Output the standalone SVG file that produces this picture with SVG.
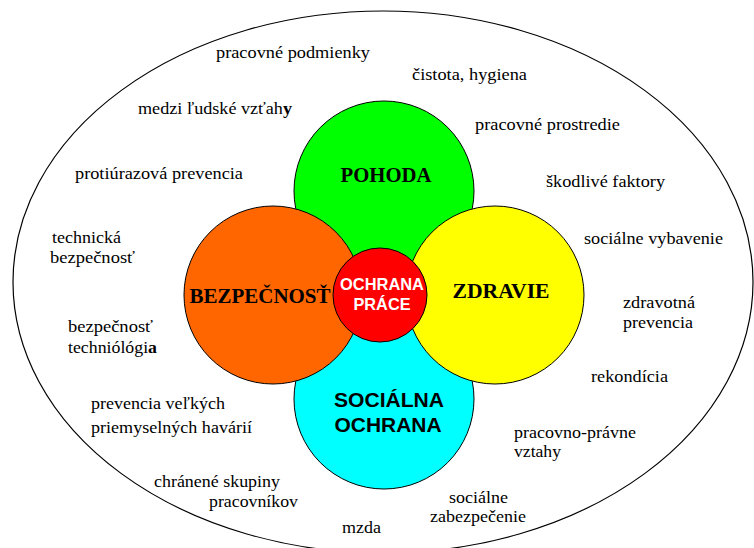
<svg xmlns="http://www.w3.org/2000/svg" width="754" height="548" viewBox="0 0 754 548">
<style>
.c{stroke:#000;stroke-width:1}
.t{font-family:'Liberation Serif','Times New Roman',serif;font-size:17px;fill:#000}
.b{font-family:'Liberation Serif','Times New Roman',serif;font-size:22px;font-weight:bold;fill:#000;text-anchor:middle}
.s{font-family:'Liberation Sans',Arial,sans-serif;font-weight:bold;text-anchor:middle}
</style>
<rect x="0" y="0" width="754" height="548" fill="#fff"/>
<ellipse id="outer" cx="383" cy="282" rx="370" ry="271" fill="none" stroke="#000" stroke-width="1.2"/>
<g id="connectors"/>
<g id="pohoda">
<circle class="c" cx="384" cy="191" r="90" fill="#00FF00"/>
<text class="b" x="386" y="182" textLength="91" lengthAdjust="spacingAndGlyphs">POHODA</text>
</g>
<g id="socialna">
<circle class="c" cx="384" cy="399" r="90" fill="#00FFFF"/>
<text class="s" x="389" y="407" font-size="21" textLength="110" lengthAdjust="spacingAndGlyphs">SOCIÁLNA</text>
<text class="s" x="388" y="432" font-size="21" textLength="107" lengthAdjust="spacingAndGlyphs">OCHRANA</text>
</g>
<g id="bezpecnost">
<circle class="c" cx="273" cy="295" r="89" fill="#FF6600"/>
<text class="b" x="260" y="303" textLength="141" lengthAdjust="spacingAndGlyphs">BEZPEČNOSŤ</text>
</g>
<g id="zdravie">
<circle class="c" cx="495" cy="295" r="89" fill="#FFFF00"/>
<text class="b" x="501" y="298" textLength="97" lengthAdjust="spacingAndGlyphs">ZDRAVIE</text>
</g>
<g id="ochrana">
<circle class="c" cx="380" cy="295" r="47" fill="#FF0000"/>
<text class="s" x="382" y="290" font-size="16.5" fill="#fff" textLength="84" lengthAdjust="spacingAndGlyphs">OCHRANA</text>
<text class="s" x="382" y="310" font-size="16.5" fill="#fff" textLength="57" lengthAdjust="spacingAndGlyphs">PRÁCE</text>
</g>
<g id="labels">
<text class="t" x="216" y="58" textLength="154" lengthAdjust="spacingAndGlyphs">pracovné podmienky</text>
<text class="t" x="412" y="80" textLength="115" lengthAdjust="spacingAndGlyphs">čistota, hygiena</text>
<text class="t" x="138" y="114" textLength="154" lengthAdjust="spacingAndGlyphs">medzi ľudské vzťah<tspan font-weight="bold">y</tspan></text>
<text class="t" x="475" y="130" textLength="145" lengthAdjust="spacingAndGlyphs">pracovné prostredie</text>
<text class="t" x="75" y="179" textLength="168" lengthAdjust="spacingAndGlyphs">protiúrazová prevencia</text>
<text class="t" x="546" y="187" textLength="119" lengthAdjust="spacingAndGlyphs">škodlivé faktory</text>
<text class="t" x="52" y="243" textLength="69" lengthAdjust="spacingAndGlyphs">technická</text>
<text class="t" x="50" y="263" textLength="85" lengthAdjust="spacingAndGlyphs">bezpečnosť</text>
<text class="t" x="584" y="244" textLength="139" lengthAdjust="spacingAndGlyphs">sociálne vybavenie</text>
<text class="t" x="623" y="308" textLength="72" lengthAdjust="spacingAndGlyphs">zdravotná</text>
<text class="t" x="623" y="328" textLength="70" lengthAdjust="spacingAndGlyphs">prevencia</text>
<text class="t" x="68" y="332" textLength="85" lengthAdjust="spacingAndGlyphs">bezpečnosť</text>
<text class="t" x="68" y="353" textLength="89" lengthAdjust="spacingAndGlyphs">techniólógi<tspan font-weight="bold">a</tspan></text>
<text class="t" x="591" y="382" textLength="77" lengthAdjust="spacingAndGlyphs">rekondícia</text>
<text class="t" x="91" y="409" textLength="134" lengthAdjust="spacingAndGlyphs">prevencia veľkých</text>
<text class="t" x="91" y="433" textLength="161" lengthAdjust="spacingAndGlyphs">priemyselných havárií</text>
<text class="t" x="514" y="438" textLength="122" lengthAdjust="spacingAndGlyphs">pracovno-právne</text>
<text class="t" x="514" y="457" textLength="47" lengthAdjust="spacingAndGlyphs">vztahy</text>
<text class="t" x="154" y="487" textLength="126" lengthAdjust="spacingAndGlyphs">chránené skupiny</text>
<text class="t" x="209" y="507" textLength="89" lengthAdjust="spacingAndGlyphs">pracovníkov</text>
<text class="t" x="449" y="503" textLength="59" lengthAdjust="spacingAndGlyphs">sociálne</text>
<text class="t" x="430" y="522" textLength="96" lengthAdjust="spacingAndGlyphs">zabezpečenie</text>
<text class="t" x="342" y="533" textLength="39" lengthAdjust="spacingAndGlyphs">mzda</text>
</g>
</svg>
